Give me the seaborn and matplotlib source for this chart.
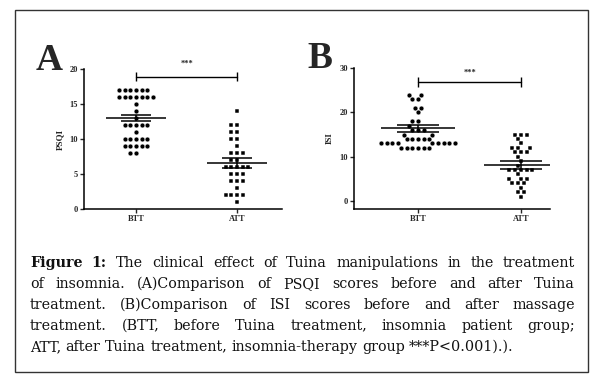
import numpy as np
import pandas as pd
import matplotlib
matplotlib.use("Agg")
import matplotlib.pyplot as plt
import seaborn as sns
from matplotlib.patches import Rectangle

# ---- data ----
groups = ["BTT", "ATT"]

# Panel A: PSQI scores (dots = BTT, squares = ATT)
psqi_btt = [17, 17, 17, 17, 17, 17, 16, 16, 16, 16, 16, 16, 16, 15, 14, 13,
            12, 12, 12, 12, 12, 11, 10, 10, 10, 10, 10, 9, 9, 9, 9, 9, 8, 8]
psqi_att = [14, 12, 12, 11, 11, 10, 10, 9, 8, 8, 8, 7, 7, 6, 6, 6, 6, 6,
            5, 5, 5, 4, 4, 4, 3, 2, 2, 2, 2, 1]
psqi_mean = [13.0, 6.6]
psqi_sem = [0.45, 0.7]

# Panel B: ISI scores
isi_btt = [24, 24, 23, 23, 21, 21, 20, 18, 18, 17, 16, 16, 16, 15, 15,
           14, 14, 14, 14, 14, 13, 13, 13, 13, 13, 13, 13, 13, 13,
           12, 12, 12, 12, 12, 12]
isi_att = [15, 15, 15, 14, 13, 12, 12, 12, 11, 11, 11, 10, 9, 8, 7, 7, 7, 7, 7,
           6, 5, 5, 5, 4, 4, 4, 3, 2, 2, 1]
isi_mean = [16.4, 8.1]
isi_sem = [0.75, 0.9]

caption = [
    ([("Figure", True), ("1:", True), ("The", False), ("clinical", False), ("effect", False),
      ("of", False), ("Tuina", False), ("manipulations", False), ("in", False), ("the", False),
      ("treatment", False)], True),
    ([(w, False) for w in "of insomnia. (A)Comparison of PSQI scores before and after Tuina".split()], True),
    ([(w, False) for w in "treatment. (B)Comparison of ISI scores before and after massage".split()], True),
    ([(w, False) for w in "treatment. (BTT, before Tuina treatment, insomnia patient group;".split()], True),
    ([(w, False) for w in "ATT, after Tuina treatment, insomnia-therapy group ***P<0.001).).".split()], False),
]

SERIF = "Liberation Serif"
W, H = 601, 385


def px(x, y):
    """pixel coords (top-left origin) -> figure fraction"""
    return x / W, 1 - y / H


def scatter_panel(ax, btt, att, means, sems, ylabel, ylim, yticks, half_mean, half_sem):
    df_b = pd.DataFrame({"group": "BTT", "value": btt})
    df_a = pd.DataFrame({"group": "ATT", "value": att})
    kw = dict(x="group", y="value", order=groups, color="black", size=3.5,
              linewidth=0.35, edgecolor="white", ax=ax, warn_thresh=1)
    sns.swarmplot(data=df_b, marker="o", **kw)
    sns.swarmplot(data=df_a, marker="s", **kw)

    for i, g in enumerate(groups):
        m, s = means[i], sems[i]
        ax.hlines(m, i - half_mean, i + half_mean, color="black", lw=1.1, zorder=5)
        ax.hlines([m - s, m + s], i - half_sem, i + half_sem, color="black", lw=1.1, zorder=5)
        ax.vlines(i, m - s, m + s, color="black", lw=1.1, zorder=5)

    ax.set_ylim(*ylim)
    ax.set_yticks(yticks)
    ax.set_ylabel(ylabel, fontsize=6.5, fontweight="bold", family=SERIF, labelpad=4)
    ax.set_xlabel("")
    ax.tick_params(axis="both", labelsize=6, width=1.0, length=3, pad=1.5)
    for lab in ax.get_xticklabels() + ax.get_yticklabels():
        lab.set_family(SERIF)
        lab.set_fontweight("bold")
    for side in ["top", "right"]:
        ax.spines[side].set_visible(False)
    for side in ["left", "bottom"]:
        ax.spines[side].set_linewidth(1.1)
        ax.spines[side].set_color("black")


def sig_bar(ax, y, cap, ytext):
    ax.plot([0, 1], [y, y], color="black", lw=1.0, clip_on=False)
    ax.vlines([0, 1], y - cap, y + cap, color="black", lw=1.0, clip_on=False)
    ax.text(0.5, ytext, "***", ha="center", va="center", fontsize=6, family=SERIF,
            fontweight="bold", clip_on=False)


def draw_caption(fig, lines, x0, x1, y0, dy, size):
    renderer = fig.canvas.get_renderer()
    probe1 = fig.text(0, 0, "x x", fontsize=size, family="DejaVu Serif")
    probe2 = fig.text(0, 0, "xx", fontsize=size, family="DejaVu Serif")
    space = probe1.get_window_extent(renderer).width - probe2.get_window_extent(renderer).width
    probe1.remove()
    probe2.remove()
    for i, (words, justify) in enumerate(lines):
        _, yf = px(0, y0 + i * dy)
        texts, widths = [], []
        for w, bold in words:
            t = fig.text(0, yf, w, fontsize=size, family="DejaVu Serif",
                         fontweight="bold" if bold else "normal", va="baseline", color="#111111")
            texts.append(t)
            widths.append(t.get_window_extent(renderer).width)
        gap = (x1 - x0 - sum(widths)) / (len(words) - 1) if justify else space
        x = x0
        for t, w in zip(texts, widths):
            t.set_x(x / W)
            x += w + gap


sns.set_style("ticks")
fig = plt.figure(figsize=(6.01, 3.85), dpi=100)

# panel A axes: x 84..282, y 69..209
axA = fig.add_axes([84 / W, 1 - 209 / H, (282 - 84) / W, (209 - 69) / H])
scatter_panel(axA, psqi_btt, psqi_att, psqi_mean, psqi_sem, "PSQI", (0, 20),
              [0, 5, 10, 15, 20], 0.3, 0.15)
axA.set_xlim(-0.515, 1.445)
sig_bar(axA, 18.9, 0.65, 20.8)

# panel B axes: x 354..550, y 68..209
axB = fig.add_axes([354 / W, 1 - 209 / H, (550 - 354) / W, (209 - 68) / H])
scatter_panel(axB, isi_btt, isi_att, isi_mean, isi_sem, "ISI", (-1.8, 30),
              [0, 10, 20, 30], 0.36, 0.2)
axB.set_xlim(-0.62, 1.28)
sig_bar(axB, 26.9, 1.1, 28.9)

# panel letters
fig.text(*px(49, 60), "A", fontsize=27, fontweight="bold", family=SERIF, ha="center", va="center")
fig.text(*px(320, 59), "B", fontsize=27, fontweight="bold", family=SERIF, ha="center", va="center")

# border box
fig.add_artist(Rectangle(px(15, 372), (588 - 15) / W, (372 - 10) / H, transform=fig.transFigure,
                         fill=False, edgecolor="#333333", lw=1.0))

draw_caption(fig, caption, 30, 575, 267, 21, 10.3)

fig.savefig("out.png", dpi=100)
plt.close(fig)
